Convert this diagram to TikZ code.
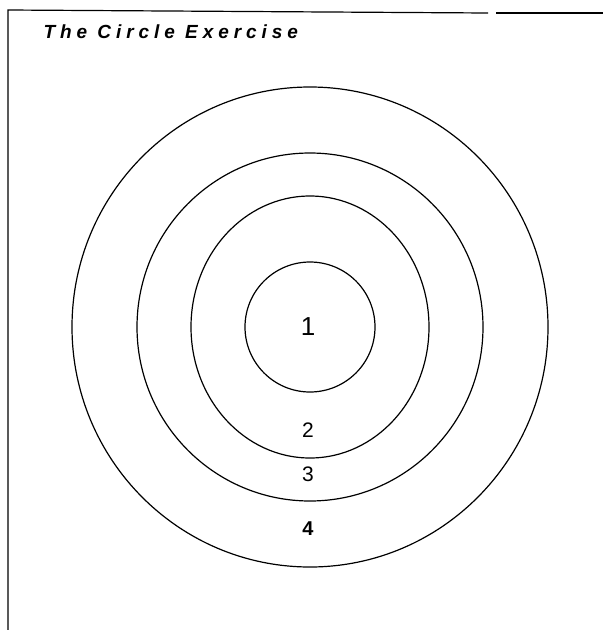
\documentclass[tikz,border=0pt]{standalone}
\usepackage{fontspec}
\setmainfont{Liberation Sans}
\begin{document}
\begin{tikzpicture}[x=1pt,y=-1pt,line width=1.2pt,
    ring/.style={draw,line width=1.2pt},
    digit/.style={inner sep=0pt,font=\fontsize{21}{21}\selectfont}]
    \useasboundingbox (0,0) rectangle (603,630);
    \coordinate (c) at (310,327);

    % frame
    \draw (8,630) -- (8,10) -- (488,13);
    \draw (496,13) -- (603,13);

    \node (title) [anchor=west,inner sep=0pt] at (43,32)
        {\fontsize{19}{19}\selectfont\bfseries\itshape\addfontfeatures{LetterSpace=26}The Circle Exercise};

    \draw[ring] (c) circle [x radius=65pt, y radius=65pt];
    \draw[ring] (c) circle [x radius=119pt, y radius=131pt];
    \draw[ring] (c) circle [x radius=173pt, y radius=174pt];
    \draw[ring] (c) circle [x radius=238pt, y radius=240pt];

    \node (1) [digit,font=\fontsize{26}{26}\selectfont] at (308,326.5) {1};
    \node (2) [digit,at=(1.center),yshift=-104pt] {2};
    \node (3) [digit,at=(2.center),yshift=-44pt] {3};
    \node (4) [digit,at=(3.center),yshift=-54pt,font=\fontsize{20}{20}\bfseries] {4};
\end{tikzpicture}
\end{document}
